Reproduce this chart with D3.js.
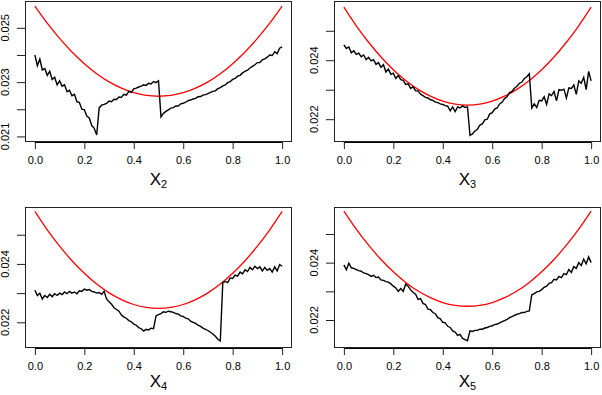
<!DOCTYPE html>
<html>
<head>
<meta charset="utf-8">
<script src="https://cdn.jsdelivr.net/npm/d3@7"></script>
<style>
  body { margin: 0; background: #fff; }
  svg { display: block; }
  text { font-family: "Liberation Sans", Arial, Helvetica, sans-serif; fill: #000; }
</style>
</head>
<body>
<div id="chart"></div>
<script>
// x grid shared by every panel (0.00 .. 1.00 in steps of 0.01)
var xGrid = d3.range(101).map(function(i){ return i / 100; });

// red reference curve, read every 0.05
var refX = [0, 0.05, 0.1, 0.15, 0.2, 0.25, 0.3, 0.35, 0.4, 0.45, 0.5,
            0.55, 0.6, 0.65, 0.7, 0.75, 0.8, 0.85, 0.9, 0.95, 1];
var refY = [0.02580, 0.02517, 0.02461, 0.02411, 0.02368, 0.02331, 0.02301, 0.02278, 0.02261, 0.02251, 0.02248,
            0.02251, 0.02261, 0.02278, 0.02301, 0.02331, 0.02368, 0.02411, 0.02461, 0.02517, 0.02580];

var seriesX2 = [
  0.02400, 0.02360, 0.02385, 0.02345, 0.02350, 0.02325, 0.02340, 0.02310, 0.02318, 0.02290,
  0.02305, 0.02285, 0.02290, 0.02265, 0.02270, 0.02250, 0.02255, 0.02228, 0.02225, 0.02200,
  0.02198, 0.02175, 0.02168, 0.02140, 0.02130, 0.02105, 0.02205, 0.02215, 0.02218, 0.02222,
  0.02230, 0.02228, 0.02237, 0.02236, 0.02245, 0.02244, 0.02255, 0.02252, 0.02266, 0.02262,
  0.02275, 0.02278, 0.02282, 0.02285, 0.02290, 0.02288, 0.02296, 0.02293, 0.02302, 0.02298,
  0.02305, 0.02172, 0.02185, 0.02192, 0.02198, 0.02204, 0.02206, 0.02212, 0.02212, 0.02220,
  0.02222, 0.02226, 0.02232, 0.02234, 0.02238, 0.02240, 0.02246, 0.02247, 0.02252, 0.02254,
  0.02258, 0.02262, 0.02266, 0.02268, 0.02276, 0.02280, 0.02286, 0.02290, 0.02298, 0.02302,
  0.02310, 0.02314, 0.02322, 0.02325, 0.02334, 0.02340, 0.02344, 0.02352, 0.02358, 0.02364,
  0.02372, 0.02372, 0.02382, 0.02386, 0.02392, 0.02400, 0.02398, 0.02412, 0.02405, 0.02425,
  0.02430
];

var seriesX3 = [
  0.02452, 0.02440, 0.02445, 0.02425, 0.02432, 0.02420, 0.02424, 0.02412, 0.02418, 0.02402,
  0.02410, 0.02398, 0.02402, 0.02386, 0.02392, 0.02376, 0.02385, 0.02360, 0.02370, 0.02352,
  0.02356, 0.02338, 0.02348, 0.02334, 0.02332, 0.02318, 0.02320, 0.02304, 0.02310, 0.02296,
  0.02296, 0.02285, 0.02280, 0.02274, 0.02272, 0.02266, 0.02264, 0.02258, 0.02256, 0.02252,
  0.02250, 0.02246, 0.02244, 0.02228, 0.02242, 0.02226, 0.02242, 0.02238, 0.02245, 0.02240,
  0.02242, 0.02145, 0.02150, 0.02160, 0.02166, 0.02180, 0.02184, 0.02198, 0.02200, 0.02218,
  0.02222, 0.02234, 0.02238, 0.02252, 0.02258, 0.02270, 0.02276, 0.02290, 0.02294, 0.02305,
  0.02312, 0.02322, 0.02326, 0.02338, 0.02344, 0.02354, 0.02238, 0.02252, 0.02240, 0.02264,
  0.02262, 0.02276, 0.02250, 0.02286, 0.02280, 0.02294, 0.02262, 0.02300, 0.02298, 0.02302,
  0.02272, 0.02306, 0.02304, 0.02316, 0.02284, 0.02330, 0.02322, 0.02342, 0.02300, 0.02362,
  0.02330
];

var seriesX4 = [
  0.02310, 0.02292, 0.02300, 0.02280, 0.02292, 0.02285, 0.02296, 0.02288, 0.02298, 0.02292,
  0.02300, 0.02295, 0.02304, 0.02298, 0.02306, 0.02300, 0.02304, 0.02298, 0.02308, 0.02306,
  0.02314, 0.02310, 0.02312, 0.02306, 0.02304, 0.02300, 0.02302, 0.02296, 0.02306, 0.02280,
  0.02270, 0.02262, 0.02250, 0.02244, 0.02238, 0.02225, 0.02218, 0.02214, 0.02206, 0.02202,
  0.02194, 0.02190, 0.02182, 0.02178, 0.02170, 0.02176, 0.02174, 0.02180, 0.02178, 0.02222,
  0.02226, 0.02230, 0.02236, 0.02234, 0.02238, 0.02236, 0.02234, 0.02230, 0.02228, 0.02222,
  0.02220, 0.02214, 0.02212, 0.02204, 0.02200, 0.02196, 0.02190, 0.02186, 0.02180, 0.02176,
  0.02172, 0.02166, 0.02160, 0.02152, 0.02142, 0.02136, 0.02335, 0.02340, 0.02336, 0.02352,
  0.02350, 0.02362, 0.02358, 0.02372, 0.02366, 0.02380, 0.02374, 0.02388, 0.02380, 0.02392,
  0.02384, 0.02390, 0.02376, 0.02388, 0.02378, 0.02384, 0.02372, 0.02390, 0.02376, 0.02398,
  0.02392
];

var seriesX5 = [
  0.02392, 0.02375, 0.02398, 0.02382, 0.02380, 0.02376, 0.02372, 0.02370, 0.02364, 0.02362,
  0.02358, 0.02352, 0.02356, 0.02348, 0.02350, 0.02340, 0.02338, 0.02334, 0.02332, 0.02326,
  0.02318, 0.02312, 0.02300, 0.02310, 0.02300, 0.02325, 0.02318, 0.02305, 0.02296, 0.02290,
  0.02272, 0.02275, 0.02258, 0.02254, 0.02238, 0.02236, 0.02226, 0.02222, 0.02208, 0.02204,
  0.02192, 0.02190, 0.02178, 0.02174, 0.02162, 0.02158, 0.02146, 0.02150, 0.02136, 0.02132,
  0.02128, 0.02162, 0.02160, 0.02164, 0.02164, 0.02168, 0.02168, 0.02172, 0.02174, 0.02178,
  0.02180, 0.02184, 0.02186, 0.02190, 0.02194, 0.02198, 0.02202, 0.02208, 0.02212, 0.02216,
  0.02220, 0.02222, 0.02226, 0.02226, 0.02230, 0.02232, 0.02288, 0.02292, 0.02298, 0.02300,
  0.02306, 0.02314, 0.02318, 0.02328, 0.02330, 0.02342, 0.02340, 0.02352, 0.02348, 0.02362,
  0.02358, 0.02376, 0.02366, 0.02386, 0.02380, 0.02400, 0.02390, 0.02412, 0.02396, 0.02420,
  0.02400
];

var xTicks = [0, 0.2, 0.4, 0.6, 0.8, 1.0];
var yTicksTop = [0.021, 0.022, 0.023, 0.024, 0.025];
var yLabelsTop = [0.021, 0.023, 0.025];
var yTicksRest = [0.022, 0.023, 0.024, 0.025];
var yLabelsRest = [0.022, 0.024];

var panels = [
  {sub: "2", values: seriesX2, ylim: [0.020794, 0.025989], ticks: yTicksTop, labels: yLabelsTop, left: 25, top: 1, labelGap: 43},
  {sub: "3", values: seriesX3, ylim: [0.021226, 0.02601], ticks: yTicksRest, labels: yLabelsRest, left: 334, top: 1, labelGap: 43},
  {sub: "4", values: seriesX4, ylim: [0.02112, 0.02595], ticks: yTicksRest, labels: yLabelsRest, left: 25, top: 207, labelGap: 39},
  {sub: "5", values: seriesX5, ylim: [0.021024, 0.02594], ticks: yTicksRest, labels: yLabelsRest, left: 334, top: 207, labelGap: 39}
];

var W = 602, H = 395;
var boxW = 267, boxH = 141;

var svg = d3.select("#chart")
    .append("svg")
    .attr("width", W)
    .attr("height", H);

panels.forEach(function(p){
    var g = svg.append("g")
        .attr("transform", "translate(" + p.left + "," + p.top + ")");

    // R style: 4% padding on x
    var x = d3.scaleLinear().domain([-0.04, 1.04]).range([0, boxW]);
    var y = d3.scaleLinear().domain(p.ylim).range([boxH, 0]);

    //red curve
    g.append("path")
        .datum(refX.map(function(d, i){ return [d, refY[i]]; }))
        .attr("fill", "none")
        .attr("stroke", "#ff0000")
        .attr("stroke-width", 1.3)
        .attr("d", d3.line()
            .curve(d3.curveNatural)
            .x(function(d){ return x(d[0]); })
            .y(function(d){ return y(d[1]); }));

    //black line
    g.append("path")
        .datum(p.values.map(function(d, i){ return [xGrid[i], d]; }))
        .attr("fill", "none")
        .attr("stroke", "#000")
        .attr("stroke-width", 1.4)
        .attr("d", d3.line()
            .x(function(d){ return x(d[0]); })
            .y(function(d){ return y(d[1]); }));

    //box
    g.append("rect")
        .attr("x", 0.5)
        .attr("y", 0.5)
        .attr("width", boxW - 1)
        .attr("height", boxH - 1)
        .attr("fill", "none")
        .attr("stroke", "#222")
        .attr("stroke-width", 1);

    //x axis
    var xAxis = g.append("g")
        .attr("transform", "translate(0," + boxH + ")")
        .call(d3.axisBottom(x).tickValues(xTicks).tickSizeOuter(0).tickSize(7).tickPadding(7)
            .tickFormat(d3.format(".1f")));
    xAxis.select(".domain")
        .attr("d", "M" + x(0) + ",0.5H" + x(1));
    xAxis.selectAll("line").attr("stroke", "#222");
    xAxis.selectAll("text")
        .style("font-family", "'Liberation Sans', Arial, sans-serif")
        .attr("font-size", 11)
        .attr("fill", "#000");

    //y axis
    var yAxis = g.append("g")
        .call(d3.axisLeft(y).tickValues(p.ticks).tickSizeOuter(0).tickSize(8).tickFormat(""));
    yAxis.select(".domain").remove();
    yAxis.selectAll("line").attr("stroke", "#222");

    g.selectAll(".ylab")
        .data(p.labels)
        .join("text")
        .attr("class", "ylab")
        .attr("transform", function(d){ return "translate(-16," + y(d) + ") rotate(-90)"; })
        .attr("text-anchor", "middle")
        .attr("font-size", 11)
        .text(d3.format(".3f"));

    //x label
    var lab = g.append("text")
        .attr("x", x(0.5))
        .attr("y", boxH + p.labelGap)
        .attr("text-anchor", "middle")
        .attr("font-size", 17);
    lab.append("tspan").text("X");
    lab.append("tspan")
        .attr("font-size", 11)
        .attr("dy", 3)
        .text(p.sub);
});
</script>
</body>
</html>
